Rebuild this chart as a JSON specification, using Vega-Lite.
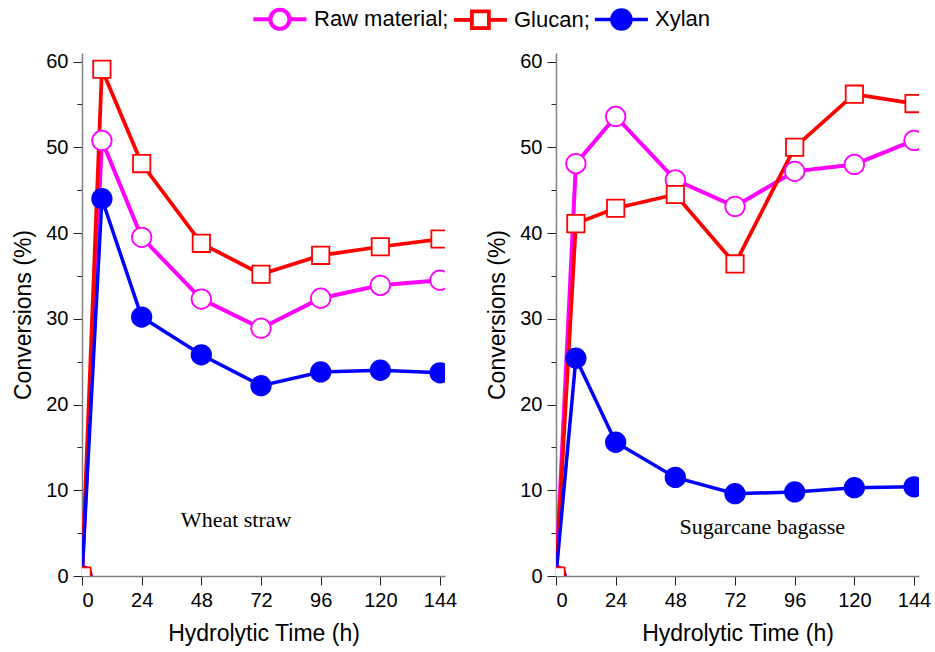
{
  "$schema": "https://vega.github.io/schema/vega-lite/v6.json",
  "background": "white",
  "padding": {"left": 12, "top": 6, "right": 5, "bottom": 5},
  "datasets": {
    "wheat": [
      {"t": 0, "v": 0, "s": "Raw material"},
      {"t": 8, "v": 50.8, "s": "Raw material"},
      {"t": 24, "v": 39.5, "s": "Raw material"},
      {"t": 48, "v": 32.3, "s": "Raw material"},
      {"t": 72, "v": 28.9, "s": "Raw material"},
      {"t": 96, "v": 32.4, "s": "Raw material"},
      {"t": 120, "v": 33.9, "s": "Raw material"},
      {"t": 144, "v": 34.5, "s": "Raw material"},
      {"t": 0, "v": 0, "s": "Glucan"},
      {"t": 8, "v": 59.1, "s": "Glucan"},
      {"t": 24, "v": 48.1, "s": "Glucan"},
      {"t": 48, "v": 38.8, "s": "Glucan"},
      {"t": 72, "v": 35.2, "s": "Glucan"},
      {"t": 96, "v": 37.4, "s": "Glucan"},
      {"t": 120, "v": 38.4, "s": "Glucan"},
      {"t": 144, "v": 39.3, "s": "Glucan"},
      {"t": 0, "v": 0, "s": "Xylan"},
      {"t": 8, "v": 44.0, "s": "Xylan"},
      {"t": 24, "v": 30.2, "s": "Xylan"},
      {"t": 48, "v": 25.8, "s": "Xylan"},
      {"t": 72, "v": 22.2, "s": "Xylan"},
      {"t": 96, "v": 23.8, "s": "Xylan"},
      {"t": 120, "v": 24.0, "s": "Xylan"},
      {"t": 144, "v": 23.7, "s": "Xylan"}
    ],
    "cane": [
      {"t": 0, "v": 0, "s": "Raw material"},
      {"t": 8, "v": 48.1, "s": "Raw material"},
      {"t": 24, "v": 53.6, "s": "Raw material"},
      {"t": 48, "v": 46.2, "s": "Raw material"},
      {"t": 72, "v": 43.1, "s": "Raw material"},
      {"t": 96, "v": 47.2, "s": "Raw material"},
      {"t": 120, "v": 48.0, "s": "Raw material"},
      {"t": 144, "v": 50.8, "s": "Raw material"},
      {"t": 0, "v": 0, "s": "Glucan"},
      {"t": 8, "v": 41.1, "s": "Glucan"},
      {"t": 24, "v": 42.9, "s": "Glucan"},
      {"t": 48, "v": 44.5, "s": "Glucan"},
      {"t": 72, "v": 36.4, "s": "Glucan"},
      {"t": 96, "v": 50.0, "s": "Glucan"},
      {"t": 120, "v": 56.2, "s": "Glucan"},
      {"t": 144, "v": 55.1, "s": "Glucan"},
      {"t": 0, "v": 0, "s": "Xylan"},
      {"t": 8, "v": 25.4, "s": "Xylan"},
      {"t": 24, "v": 15.6, "s": "Xylan"},
      {"t": 48, "v": 11.5, "s": "Xylan"},
      {"t": 72, "v": 9.6, "s": "Xylan"},
      {"t": 96, "v": 9.8, "s": "Xylan"},
      {"t": 120, "v": 10.3, "s": "Xylan"},
      {"t": 144, "v": 10.4, "s": "Xylan"}
    ],
    "labels": [
      {"panel": "wheat", "t": 62, "v": 6.5, "name": "Wheat straw"},
      {"panel": "cane", "t": 83, "v": 5.7, "name": "Sugarcane bagasse"}
    ]
  },
  "config": {
    "view": {"stroke": null},
    "font": "Liberation Sans",
    "axis": {
      "grid": false,
      "domainColor": "#808080",
      "domainWidth": 1.5,
      "tickColor": "#222222",
      "tickWidth": 1,
      "labelFont": "Liberation Sans",
      "labelFontSize": 20,
      "labelColor": "black",
      "titleFont": "Liberation Sans",
      "titleFontSize": 23,
      "titleFontWeight": "normal",
      "titleColor": "black"
    }
  },
  "hconcat": [
    {
      "width": 363,
      "height": 523,
      "layer": [
        {
          "data": {"name": "wheat"},
          "mark": {"type": "line", "clip": true},
          "encoding": {
            "x": {"field": "t", "type": "quantitative"},
            "y": {"field": "v", "type": "quantitative"},
            "color": {"field": "s", "type": "nominal", "scale": {"domain": ["Raw material", "Glucan", "Xylan"], "range": ["#ff00ff", "#ff0000", "#0000ff"]},
              "legend": {
                "orient": "none", "legendX": 169, "legendY": -47, "direction": "horizontal", "title": null,
                "labelFontSize": 22, "labelFont": "Liberation Sans", "labelColor": "black",
                "labelExpr": "datum.value === 'Xylan' ? datum.value : datum.value + ';'",
                "symbolSize": 450, "symbolStrokeWidth": 2.5, "symbolOpacity": 1,
                "symbolType": "M-1,0H0.6M2.4,0H4M2.4,0A0.9,0.9 0 1,1 0.6,0A0.9,0.9 0 1,1 2.4,0",
                "labelOffset": 37, "columnPadding": -3,
                "encode": {"symbols": {"update": {
                  "shape": {"signal": "datum.value === 'Glucan' ? 'M-1,0H0.7M2.3,0H4M0.7,-0.8H2.3V0.8H0.7Z' : 'M-1,0H0.6M2.4,0H4M2.4,0A0.9,0.9 0 1,1 0.6,0A0.9,0.9 0 1,1 2.4,0'"},
                  "fill": {"signal": "datum.value === 'Xylan' ? '#0000ff' : '#ffffff'"},
                  "fillOpacity": {"value": 1},
                  "size": {"value": 450}
                }}}
              }
            },
            "strokeWidth": {"field": "s", "type": "nominal", "scale": {"domain": ["Raw material", "Glucan", "Xylan"], "range": [4, 3.5, 3]}, "legend": null}
          }
        },
        {
          "data": {"name": "wheat"},
          "transform": [{"filter": "datum.s !== 'Glucan'"}],
          "mark": {"type": "point", "shape": "circle", "size": 380, "filled": false, "strokeWidth": 1.8, "clip": true, "opacity": 1},
          "encoding": {
            "x": {"field": "t", "type": "quantitative"},
            "y": {"field": "v", "type": "quantitative"},
            "color": {"field": "s", "type": "nominal"},
            "fill": {"field": "s", "type": "nominal", "scale": {"domain": ["Raw material", "Glucan", "Xylan"], "range": ["#ffffff", "#ffffff", "#0000ff"]}, "legend": null}
          }
        },
        {
          "data": {"name": "wheat"},
          "transform": [{"filter": "datum.s === 'Glucan'"}],
          "mark": {"type": "point", "shape": "square", "size": 300, "filled": false, "strokeWidth": 1.8, "clip": true, "opacity": 1},
          "encoding": {
            "x": {"field": "t", "type": "quantitative", "scale": {"domain": [0, 146], "nice": false}, "axis": {"title": "Hydrolytic Time (h)", "values": [0, 12, 24, 36, 48, 60, 72, 84, 96, 108, 120, 132, 144], "labelExpr": "datum.value % 24 === 0 ? datum.label : ''", "tickSize": {"condition": {"test": "datum.value % 24 === 0", "value": 9}, "value": 5}, "labelPadding": 5, "titlePadding": 12}},
            "y": {"field": "v", "type": "quantitative", "scale": {"domain": [0, 61], "nice": false}, "axis": {"title": "Conversions (%)", "values": [0, 5, 10, 15, 20, 25, 30, 35, 40, 45, 50, 55, 60], "labelExpr": "datum.value % 10 === 0 ? datum.label : ''", "tickSize": {"condition": {"test": "datum.value % 10 === 0", "value": 9}, "value": 5}, "labelPadding": 5, "titlePadding": 10}},
            "color": {"field": "s", "type": "nominal"},
            "fill": {"field": "s", "type": "nominal"}
          }
        },
        {
          "data": {"name": "labels"},
          "transform": [{"filter": "datum.panel === 'wheat'"}],
          "mark": {"type": "text", "font": "Liberation Serif", "fontSize": 22, "color": "black"},
          "encoding": {
            "x": {"field": "t", "type": "quantitative"},
            "y": {"field": "v", "type": "quantitative"},
            "text": {"field": "name"}
          }
        }
      ]
    },
    {
      "width": 363,
      "height": 523,
      "layer": [
        {
          "data": {"name": "cane"},
          "mark": {"type": "line", "clip": true},
          "encoding": {
            "x": {"field": "t", "type": "quantitative"},
            "y": {"field": "v", "type": "quantitative"},
            "color": {"field": "s", "type": "nominal", "scale": {"domain": ["Raw material", "Glucan", "Xylan"], "range": ["#ff00ff", "#ff0000", "#0000ff"]}, "legend": null},
            "strokeWidth": {"field": "s", "type": "nominal", "scale": {"domain": ["Raw material", "Glucan", "Xylan"], "range": [4, 3.5, 3]}, "legend": null}
          }
        },
        {
          "data": {"name": "cane"},
          "transform": [{"filter": "datum.s !== 'Glucan'"}],
          "mark": {"type": "point", "shape": "circle", "size": 380, "filled": false, "strokeWidth": 1.8, "clip": true, "opacity": 1},
          "encoding": {
            "x": {"field": "t", "type": "quantitative"},
            "y": {"field": "v", "type": "quantitative"},
            "color": {"field": "s", "type": "nominal", "legend": null},
            "fill": {"field": "s", "type": "nominal", "scale": {"domain": ["Raw material", "Glucan", "Xylan"], "range": ["#ffffff", "#ffffff", "#0000ff"]}, "legend": null}
          }
        },
        {
          "data": {"name": "cane"},
          "transform": [{"filter": "datum.s === 'Glucan'"}],
          "mark": {"type": "point", "shape": "square", "size": 300, "filled": false, "strokeWidth": 1.8, "clip": true, "opacity": 1},
          "encoding": {
            "x": {"field": "t", "type": "quantitative", "scale": {"domain": [0, 146], "nice": false}, "axis": {"title": "Hydrolytic Time (h)", "values": [0, 12, 24, 36, 48, 60, 72, 84, 96, 108, 120, 132, 144], "labelExpr": "datum.value % 24 === 0 ? datum.label : ''", "tickSize": {"condition": {"test": "datum.value % 24 === 0", "value": 9}, "value": 5}, "labelPadding": 5, "titlePadding": 12}},
            "y": {"field": "v", "type": "quantitative", "scale": {"domain": [0, 61], "nice": false}, "axis": {"title": "Conversions (%)", "values": [0, 5, 10, 15, 20, 25, 30, 35, 40, 45, 50, 55, 60], "labelExpr": "datum.value % 10 === 0 ? datum.label : ''", "tickSize": {"condition": {"test": "datum.value % 10 === 0", "value": 9}, "value": 5}, "labelPadding": 5, "titlePadding": 10}},
            "color": {"field": "s", "type": "nominal", "legend": null},
            "fill": {"field": "s", "type": "nominal", "legend": null}
          }
        },
        {
          "data": {"name": "labels"},
          "transform": [{"filter": "datum.panel === 'cane'"}],
          "mark": {"type": "text", "font": "Liberation Serif", "fontSize": 22, "color": "black"},
          "encoding": {
            "x": {"field": "t", "type": "quantitative"},
            "y": {"field": "v", "type": "quantitative"},
            "text": {"field": "name"}
          }
        }
      ]
    }
  ],
  "spacing": 29
}
